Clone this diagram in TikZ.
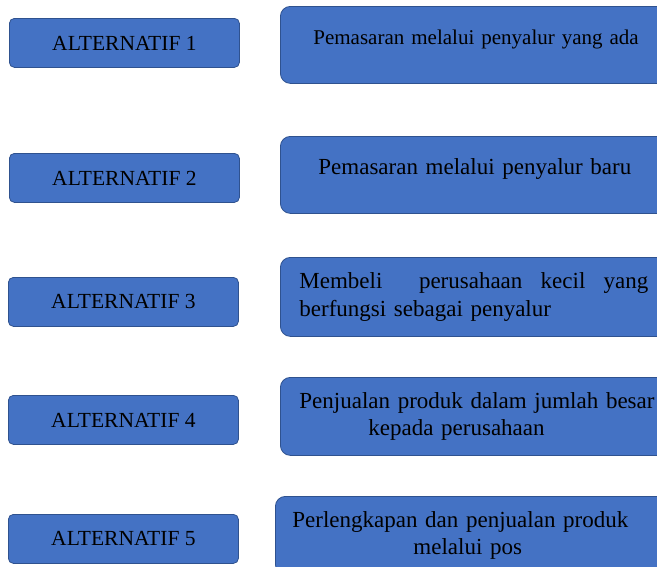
\documentclass[tikz,border=0pt]{standalone}
\usepackage{fontspec}
\setmainfont{LiberationSerif}[Extension=.ttf, UprightFont=*-Regular, BoldFont=*-Bold, ItalicFont=*-Italic]
\definecolor{boxfill}{HTML}{4472C4}
\definecolor{boxedge}{HTML}{2F528F}
\tikzset{
  altbox/.style={draw=boxedge, fill=boxfill, line width=0.8pt, rounded corners=5pt,
    minimum width=230pt, minimum height=49pt, inner sep=0pt, anchor=north west,
    font=\fontsize{21.5}{25}\selectfont},
  descbox/.style={draw=boxedge, fill=boxfill, line width=0.8pt, rounded corners=10pt,
    inner xsep=0pt, inner ysep=0pt, anchor=north west, align=left,
    font=\fontsize{23}{27.5}\selectfont},
  oneline/.style={text height=8pt, text depth=8pt}
}
\begin{document}
\begin{tikzpicture}[x=1pt, y=-1pt]
\useasboundingbox (0,0) rectangle (657,566);
\clip (0,0) rectangle (657,566);

% alternatives on the left
\node[altbox] (alt1) at (9,18)  {ALTERNATIF 1};
\node[altbox] (alt2) at (9,153) {ALTERNATIF 2};
\node[altbox] (alt3) at (8,277) {ALTERNATIF 3};
\node[altbox] (alt4) at (8,395) {ALTERNATIF 4};
\node[altbox] (alt5) at (8,514) {ALTERNATIF 5};

% descriptions on the right, running past the right edge
\node[descbox, oneline, text width=387pt, minimum height=77pt,
      font=\fontsize{21}{25}\selectfont] (desc1) at (280,6)
  {\hspace*{33pt}Pemasaran melalui penyalur yang ada};
\node[descbox, oneline, text width=387pt, minimum height=77pt] (desc2) at (280,136)
  {\hspace*{38pt}Pemasaran melalui penyalur baru};
\node[descbox, text width=387pt, minimum height=79pt] (desc3) at (280,257)
  {\hspace*{19pt}\hbox to 349pt{Membeli\hskip 0pt plus 2fil perusahaan\hskip 0pt plus 1fil kecil\hskip 0pt plus 1fil yang}\\
   \hspace*{19pt}berfungsi sebagai penyalur};
\node[descbox, text width=387pt, minimum height=78pt] (desc4) at (280,377)
  {\hspace*{19pt}Penjualan produk dalam jumlah besar\\
   \hspace*{88pt}kepada perusahaan};
\node[descbox, text width=392pt, minimum height=78pt] (desc5) at (275,496)
  {\hspace*{17pt}Perlengkapan dan penjualan produk\\
   \hspace*{138pt}melalui pos};
\end{tikzpicture}
\end{document}
